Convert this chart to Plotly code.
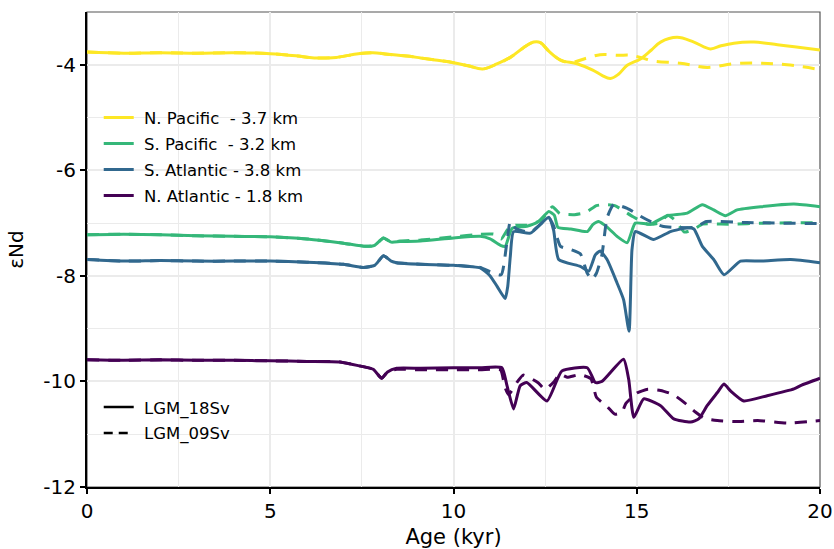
import plotly.graph_objects as go

# ---------------- data ----------------
age_np18 = [0, 1, 2, 3, 4, 5, 5.7, 6.2, 6.8, 7.4, 7.8, 8.2, 8.8, 9.1, 9.5, 10.0, 10.4, 10.8, 11.2, 11.55, 11.9,
            12.19, 12.37, 12.6, 12.92, 13.37, 13.8, 14.05, 14.28, 14.5, 14.74, 15.1, 15.4, 15.65, 16.1, 16.56,
            17.01, 17.3, 17.65, 18.2, 18.84, 19.3, 20]
np18 = [-3.76, -3.78, -3.77, -3.78, -3.77, -3.79, -3.83, -3.87, -3.86, -3.79, -3.77, -3.80, -3.84, -3.87, -3.91,
        -3.96, -4.02, -4.08, -3.98, -3.86, -3.68, -3.57, -3.58, -3.74, -3.91, -3.98, -4.10, -4.20, -4.26, -4.18,
        -4.01, -3.89, -3.72, -3.57, -3.48, -3.57, -3.70, -3.64, -3.59, -3.57, -3.62, -3.66, -3.72]

age_np09 = [0, 1, 2, 3, 4, 5, 5.7, 6.2, 6.8, 7.4, 7.8, 8.2, 8.8, 9.1, 9.5, 10.0, 10.4, 10.8, 11.2, 11.55, 11.9,
            12.19, 12.37, 12.6, 12.92, 13.2, 13.6, 14.0, 14.5, 14.83, 15.1, 15.46, 16.19, 16.92, 17.65, 18.38,
            19.1, 20]
np09 = [-3.76, -3.78, -3.77, -3.78, -3.77, -3.79, -3.83, -3.87, -3.86, -3.79, -3.77, -3.80, -3.84, -3.87, -3.91,
        -3.96, -4.02, -4.08, -3.98, -3.86, -3.68, -3.57, -3.58, -3.74, -3.91, -3.96, -3.88, -3.81, -3.82, -3.82,
        -3.86, -3.93, -3.97, -4.05, -3.98, -3.97, -4.00, -4.09]

age_sp18 = [0, 1, 2, 3, 4, 5, 6, 7, 7.6, 7.85, 8.09, 8.3, 8.54, 9.1, 10.0, 10.73, 11.0, 11.28, 11.41, 11.6, 12.0,
            12.3, 12.6, 12.75, 12.85, 13.2, 13.65, 13.8, 13.96, 14.2, 14.46, 14.74, 14.96, 15.37, 15.83, 16.38,
            16.79, 17.1, 17.42, 17.74, 18.38, 19.29, 20]
sp18 = [-7.22, -7.21, -7.22, -7.24, -7.25, -7.26, -7.30, -7.38, -7.44, -7.42, -7.28, -7.36, -7.35, -7.34, -7.28,
        -7.25, -7.30, -7.42, -7.44, -7.10, -7.06, -6.98, -6.78, -6.85, -7.08, -7.11, -7.16, -7.03, -6.97, -7.08,
        -7.25, -7.37, -7.00, -7.02, -6.86, -6.81, -6.65, -6.75, -6.86, -6.75, -6.69, -6.64, -6.69]

age_sp09 = [0, 1, 2, 3, 4, 5, 6, 7, 7.6, 7.85, 8.09, 8.3, 8.54, 9.1, 10.0, 10.73, 11.1, 11.3, 11.5, 11.7, 12.0,
            12.4, 12.7, 12.9, 13.3, 13.6, 13.9, 14.1, 14.4, 14.9, 15.3, 15.6, 15.85, 16.05, 16.3, 16.55, 16.8,
            17.5, 18.5, 20]
sp09 = [-7.22, -7.21, -7.22, -7.24, -7.25, -7.26, -7.30, -7.38, -7.44, -7.42, -7.28, -7.36, -7.34, -7.32, -7.26,
        -7.21, -7.21, -7.30, -7.10, -7.04, -7.04, -6.94, -6.69, -6.82, -6.84, -6.80, -6.67, -6.65, -6.67, -6.88,
        -7.02, -7.00, -6.85, -6.95, -7.17, -7.12, -7.02, -7.02, -7.00, -6.99]

age_sa18 = [0, 1, 2, 3, 4, 5, 6, 7, 7.54, 7.85, 8.09, 8.3, 8.45, 9.1, 10.0, 10.73, 11.0, 11.19, 11.41, 11.48, 11.55,
            11.64, 12.1, 12.6, 12.73, 12.87, 13.46, 13.69, 13.87, 14.0, 14.19, 14.46, 14.64, 14.79, 14.87, 14.96,
            15.46, 15.92, 16.38, 16.56, 16.79, 17.1, 17.38, 17.83, 18.38, 19.2, 20]
sa18 = [-7.69, -7.72, -7.71, -7.72, -7.72, -7.72, -7.74, -7.78, -7.84, -7.80, -7.62, -7.72, -7.75, -7.78, -7.80,
        -7.85, -8.00, -8.20, -8.43, -8.20, -7.63, -7.16, -7.19, -6.89, -7.13, -7.69, -7.82, -7.91, -7.60, -7.53,
        -7.69, -8.13, -8.45, -9.05, -7.50, -7.16, -7.31, -7.16, -7.09, -7.11, -7.44, -7.69, -7.98, -7.72, -7.72,
        -7.69, -7.75]

age_sa09 = [0, 1, 2, 3, 4, 5, 6, 7, 7.54, 7.85, 8.09, 8.3, 8.45, 9.1, 10.0, 10.73, 11.0, 11.3, 11.45, 11.55, 11.7,
            12.1, 12.6, 12.73, 12.92, 13.2, 13.46, 13.65, 13.78, 13.9, 14.05, 14.19, 14.37, 14.74, 15.1, 15.46,
            15.7, 16.0, 16.6, 16.9, 18.0, 20]
sa09 = [-7.69, -7.72, -7.71, -7.72, -7.72, -7.72, -7.74, -7.78, -7.84, -7.80, -7.62, -7.72, -7.75, -7.78, -7.80,
        -7.84, -7.92, -7.98, -7.40, -6.97, -7.10, -7.17, -6.90, -7.05, -7.44, -7.50, -7.58, -7.95, -8.07, -7.95,
        -7.60, -6.90, -6.65, -6.72, -6.87, -7.00, -7.06, -7.08, -7.08, -6.97, -6.99, -7.01]

age_na18 = [0, 1, 2, 3, 4, 5, 6, 6.9, 7.4, 7.81, 8.04, 8.2, 8.45, 9.1, 10.0, 10.73, 11.32, 11.46, 11.64, 11.82, 12.0,
            12.55, 12.96, 13.65, 13.87, 14.05, 14.64, 14.78, 14.92, 15.19, 15.65, 16.01, 16.47, 16.69, 16.92, 17.2,
            17.38, 17.56, 17.92, 18.56, 19.29, 19.5, 20]
na18 = [-9.59, -9.60, -9.59, -9.60, -9.60, -9.61, -9.62, -9.63, -9.70, -9.77, -9.94, -9.82, -9.75, -9.75, -9.74,
        -9.74, -9.74, -10.08, -10.52, -10.08, -10.02, -10.37, -9.80, -9.74, -10.02, -10.00, -9.58, -9.96, -10.68,
        -10.33, -10.46, -10.71, -10.77, -10.71, -10.46, -10.21, -10.05, -10.18, -10.37, -10.27, -10.14, -10.07,
        -9.94]

age_na09 = [0, 1, 2, 3, 4, 5, 6, 6.9, 7.4, 7.81, 8.04, 8.2, 8.45, 9.1, 10.0, 10.73, 11.28, 11.4, 11.5, 11.75, 11.9,
            12.3, 12.5, 12.75, 12.9, 13.1, 13.45, 13.75, 13.9, 14.2, 14.4, 14.6, 14.7, 15.0, 15.3, 15.65, 16.0,
            16.3, 16.6, 16.85, 17.2, 17.7, 18.3, 19.1, 20]
na09 = [-9.59, -9.60, -9.59, -9.60, -9.60, -9.61, -9.62, -9.63, -9.70, -9.77, -9.94, -9.82, -9.77, -9.78, -9.78,
        -9.78, -9.78, -10.10, -10.25, -10.00, -9.88, -10.02, -10.15, -10.00, -9.86, -9.92, -9.87, -9.95, -10.30,
        -10.48, -10.62, -10.58, -10.42, -10.22, -10.15, -10.17, -10.25, -10.40, -10.58, -10.70, -10.74, -10.76,
        -10.74, -10.79, -10.74]

site_names = ["N. Pacific\u00a0\u00a0- 3.7 km", "S. Pacific\u00a0\u00a0- 3.2 km",
              "S. Atlantic - 3.8 km", "N. Atlantic - 1.8 km"]
site_colors = ["#FDE725", "#35B779", "#31688E", "#440154"]
exp_names = ["LGM_18Sv", "LGM_09Sv"]

x_ticks = [0, 5, 10, 15, 20]
x_ticktext = ["0", "5", "10", "15", "20"]
y_ticks = [-12, -10, -8, -6, -4]
y_ticktext = ["-12", "-10", "-8", "-6", "-4"]

# ---------------- figure ----------------
fig = go.Figure()
series = [
    (age_np18, np18, age_np09, np09),
    (age_sp18, sp18, age_sp09, sp09),
    (age_sa18, sa18, age_sa09, sa09),
    (age_na18, na18, age_na09, na09),
]
DASH = "12px,9px"
for i, (xs, ys, xd, yd) in enumerate(series):
    smooth = 1.0 if i == 0 else 0.5
    fig.add_trace(go.Scatter(x=xs, y=ys, mode="lines", name="\u00a0" + site_names[i],
                             line=dict(color=site_colors[i], width=3, shape="spline", smoothing=smooth),
                             legend="legend", legendgroup=f"g{i}", showlegend=True, hoverinfo="skip"))
    fig.add_trace(go.Scatter(x=xd, y=yd, mode="lines", name=site_names[i] + " 09",
                             line=dict(color=site_colors[i], width=3, dash=DASH, shape="spline",
                                       smoothing=smooth),
                             showlegend=False, hoverinfo="skip"))

# legend entries for the experiments (line types)
fig.add_trace(go.Scatter(x=[None], y=[None], mode="lines", name="\u00a0" + exp_names[0],
                         line=dict(color="black", width=2.5), legend="legend2", legendgroup="e0"))
fig.add_trace(go.Scatter(x=[None], y=[None], mode="lines", name="\u00a0" + exp_names[1],
                         line=dict(color="black", width=2.5, dash="9px,6px"), legend="legend2",
                         legendgroup="e1"))

font_family = "DejaVu Sans, Liberation Sans, Arial, sans-serif"
grid_c = "#EBEBEB"

fig.update_layout(
    width=834, height=549,
    margin=dict(l=87, r=14, t=12, b=62),
    paper_bgcolor="white", plot_bgcolor="white",
    font=dict(family=font_family, color="black", size=17),
    legend=dict(x=0.016, y=0.814, xanchor="left", yanchor="top", bgcolor="rgba(0,0,0,0)",
                font=dict(size=16.5, family=font_family), tracegroupgap=1.5, traceorder="grouped",
                itemwidth=30),
    legend2=dict(x=0.016, y=0.2045, xanchor="left", yanchor="top", bgcolor="rgba(0,0,0,0)",
                 font=dict(size=16.5, family=font_family), tracegroupgap=1.5, traceorder="grouped",
                 itemwidth=30),
    xaxis=dict(range=[0, 20], tickvals=x_ticks, ticktext=x_ticktext, ticks="outside", ticklen=5,
               tickwidth=1.5, tickcolor="black", showline=True, linecolor="black", linewidth=2,
               showgrid=True, gridcolor=grid_c, gridwidth=1.5, zeroline=False, automargin=False,
               minor=dict(tickvals=[2.5, 7.5, 12.5, 17.5], showgrid=True, gridcolor=grid_c, gridwidth=1),
               title=dict(text="Age (kyr)", font=dict(size=21), standoff=8),
               tickfont=dict(size=20)),
    yaxis=dict(range=[-12, -3], tickvals=y_ticks, ticktext=y_ticktext, ticks="outside", ticklen=5,
               tickwidth=1.5, tickcolor="black", showline=True, linecolor="black", linewidth=2,
               showgrid=True, gridcolor=grid_c, gridwidth=1.5, zeroline=False, automargin=False,
               minor=dict(tickvals=[-11, -9, -7, -5, -3], showgrid=True, gridcolor=grid_c, gridwidth=1),
               title=dict(text="εNd", font=dict(size=20), standoff=14),
               tickfont=dict(size=20)),
    shapes=[dict(type="rect", xref="paper", yref="paper", x0=0, x1=1, y0=0, y1=1,
                 line=dict(color="#555555", width=1.2), layer="below")],
)

fig.write_html("out.html")
